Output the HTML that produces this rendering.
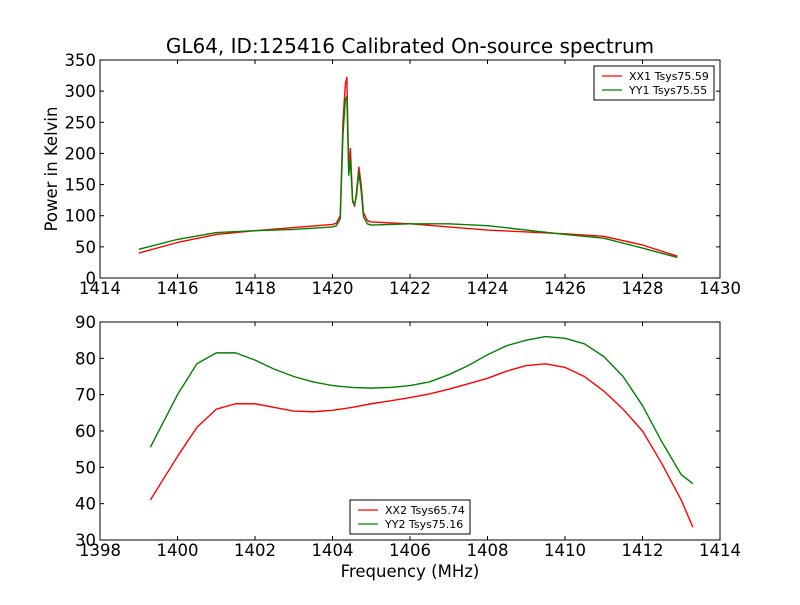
<!DOCTYPE html>
<html><head><meta charset="utf-8"><style>
body{margin:0;background:#fff}
svg text{font-family:"DejaVu Sans","Liberation Sans",sans-serif}
</style></head><body>
<svg id="c" width="800" height="600" xmlns="http://www.w3.org/2000/svg">
<rect width="800" height="600" fill="#fff"/>
<text x="410" y="53" font-size="20" text-anchor="middle">GL64, ID:125416 Calibrated On-source spectrum</text>
<text x="410" y="577" font-size="16.5" text-anchor="middle">Frequency (MHz)</text>
<text transform="translate(57,169) rotate(-90)" font-size="16.5" text-anchor="middle">Power in Kelvin</text>
<g id="top"></g>
<g id="bot"></g>
</svg>
<script>
const topFreq=[1415,1416,1417,1418,1419,1420,1420.1,1420.2,1420.27,1420.33,1420.37,1420.42,1420.46,1420.52,1420.57,1420.62,1420.68,1420.74,1420.8,1420.9,1421,1422,1423,1424,1425,1426,1427,1428,1428.9];
const topXX1=[40,57,70,76,81,86,88,100,250,310,322,170,208,125,115,138,178,150,105,92,90,87,82,77,74,71,67,53,35];
const topYY1=[46,62,73,76,78,82,84,95,230,285,292,165,190,122,118,132,170,140,98,87,85,87,87,84,77,70,64,48,33];
const botFreq=[1399.3,1400,1400.5,1401,1401.5,1402,1402.5,1403,1403.5,1404,1404.5,1405,1405.5,1406,1406.5,1407,1407.5,1408,1408.5,1409,1409.5,1410,1410.5,1411,1411.5,1412,1412.5,1413,1413.3];
const botXX2=[41,53,61,66,67.5,67.5,66.5,65.5,65.3,65.7,66.5,67.5,68.3,69.2,70.2,71.5,73,74.5,76.5,78,78.5,77.5,75,71,66,60,51,41,33.5];
const botYY2=[55.5,70,78.5,81.5,81.5,79.5,77,75,73.5,72.5,72,71.8,72,72.5,73.5,75.5,78,81,83.5,85,86,85.5,84,80.5,75,67,57,48,45.5];
const topXTicks=[1414,1416,1418,1420,1422,1424,1426,1428,1430];
const topYTicks=[0,50,100,150,200,250,300,350];
const botXTicks=[1398,1400,1402,1404,1406,1408,1410,1412,1414];
const botYTicks=[30,40,50,60,70,80,90];
const NS="http://www.w3.org/2000/svg";
function mk(p,t,a){const e=document.createElementNS(NS,t);for(const k in a)e.setAttribute(k,a[k]);p.appendChild(e);return e;}
function panel(g,y0,y1,xmin,xmax,ymin,ymax,xt,yt,series,leg,name){
  const X=v=>100+(v-xmin)/(xmax-xmin)*620, Y=v=>y1-(v-ymin)/(ymax-ymin)*(y1-y0);
  series.forEach(s=>{
    const p=mk(g,'polyline',{points:s.x.map((v,i)=>X(v)+','+Y(s.y[i])).join(' '),fill:'none',stroke:s.c,'stroke-width':1.4,'stroke-linejoin':'round'});
    
    
  });
  const fr=mk(g,'rect',{x:100,y:y0,width:620,height:y1-y0,fill:'none',stroke:'#000'});
  
  
  xt.forEach(v=>{const x=X(v);mk(g,'line',{x1:x,x2:x,y1:y1,y2:y1-4,stroke:'#000'});mk(g,'line',{x1:x,x2:x,y1:y0,y2:y0+4,stroke:'#000'});
    const t=mk(g,'text',{x:x,y:y1+16,'font-size':16.5,'text-anchor':'middle'});t.textContent=v;
    
    });
  yt.forEach(v=>{const y=Y(v);mk(g,'line',{x1:100,x2:104,y1:y,y2:y,stroke:'#000'});mk(g,'line',{x1:720,x2:716,y1:y,y2:y,stroke:'#000'});
    const t=mk(g,'text',{x:96,y:y+6,'font-size':16.5,'text-anchor':'end'});t.textContent=v;
    
    });
  const lg=mk(g,'g',{});
  
  
  mk(lg,'rect',{x:leg.x,y:leg.y,width:120,height:34,fill:'#fff',stroke:'#000'});
  series.forEach((s,i)=>{const yy=leg.y+10+i*14;
    mk(lg,'line',{x1:leg.x+8,x2:leg.x+28,y1:yy,y2:yy,stroke:s.c,'stroke-width':1.2});
    const t=mk(lg,'text',{x:leg.x+35,y:yy+4,'font-size':11});t.textContent=s.label;
    
    });
}
panel(document.getElementById('top'),60,278,1414,1430,0,350,topXTicks,topYTicks,
 [{x:topFreq,y:topXX1,c:'#f00',n:'xx1',label:'XX1 Tsys75.59'},{x:topFreq,y:topYY1,c:'#008000',n:'yy1',label:'YY1 Tsys75.55'}],{x:594,y:66},'top');
panel(document.getElementById('bot'),322,540,1398,1414,30,90,botXTicks,botYTicks,
 [{x:botFreq,y:botXX2,c:'#f00',n:'xx2',label:'XX2 Tsys65.74'},{x:botFreq,y:botYY2,c:'#008000',n:'yy2',label:'YY2 Tsys75.16'}],{x:350,y:500},'bottom');
</script>
</body></html>
